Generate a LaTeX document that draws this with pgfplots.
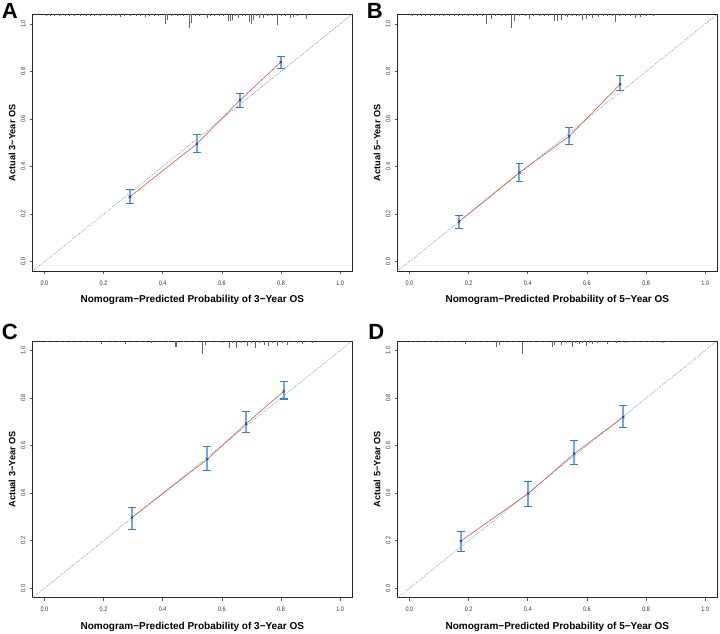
\documentclass[border=0pt]{standalone}
\usepackage{fontspec}
\setmainfont{Liberation Sans}
\usepackage{graphicx}
\usepackage{pgfplots}
\usepackage{pgfplotstable}
\pgfplotsset{compat=1.18}

\definecolor{errblue}{RGB}{55,125,195}
\definecolor{errlight}{RGB}{115,170,222}
\definecolor{ptblue}{RGB}{40,50,175}
\definecolor{redline}{RGB}{208,100,84}
\definecolor{diagblue}{RGB}{105,155,205}
\definecolor{rugc}{RGB}{100,100,100}

% calibration points: x y ep em
\pgfplotstableread{
x y ep em
0.289 0.273 0.031 0.030
0.515 0.495 0.038 0.036
0.662 0.680 0.028 0.032
0.799 0.839 0.024 0.028
}\calA
\pgfplotstableread{
x y ep em
0.168 0.169 0.027 0.030
0.372 0.375 0.039 0.036
0.540 0.527 0.036 0.034
0.712 0.746 0.036 0.028
}\calB
\pgfplotstableread{
x y ep em
0.296 0.298 0.040 0.049
0.551 0.543 0.053 0.048
0.682 0.692 0.051 0.037
0.809 0.828 0.041 0.032
}\calC
\pgfplotstableread{
x y ep em
0.174 0.199 0.040 0.045
0.402 0.399 0.052 0.054
0.557 0.566 0.055 0.046
0.723 0.720 0.047 0.044
}\calD

% rug (distribution of predictions): x, length in px
\pgfplotstableread{
x l
0.005 1.5
0.020 1.5
0.035 1.2
0.050 1.5
0.070 1.5
0.085 1.2
0.100 1.5
0.120 1.5
0.140 1.2
0.155 1.5
0.170 1.5
0.190 1.5
0.210 1.2
0.225 1.5
0.240 1.5
0.256 2.7
0.270 1.5
0.290 1.5
0.310 1.5
0.325 1.2
0.340 3
0.355 1.5
0.370 1.5
0.385 1.5
0.408 9.3
0.414 6
0.430 1.5
0.450 1.5
0.470 1.5
0.490 13.7
0.496 9
0.510 1.5
0.525 1.5
0.549 4
0.560 1.5
0.575 2
0.590 1.5
0.605 2
0.620 7
0.628 7
0.636 6
0.645 2
0.656 4
0.670 2
0.680 2
0.693 8
0.699 10
0.707 6
0.715 2
0.727 4
0.741 4
0.755 2
0.770 1.5
0.788 11
0.800 2
0.815 1.5
0.831 4
0.842 3
0.855 1.5
0.885 5
}\rugA
\pgfplotstableread{
x l
0.010 1.5
0.025 1.5
0.040 1.2
0.055 1.5
0.070 1.5
0.085 1.2
0.100 1.5
0.115 1.5
0.135 2
0.150 1.5
0.165 1.2
0.180 1.5
0.200 1.5
0.215 1.2
0.230 1.5
0.245 1.5
0.258 9.7
0.275 5
0.290 1.5
0.310 1.5
0.325 1.5
0.344 13.3
0.355 7
0.370 1.5
0.390 1.5
0.406 5
0.420 1.5
0.440 1.5
0.455 1.5
0.470 2
0.490 7
0.498 7
0.513 6
0.525 2
0.535 3
0.550 2
0.565 2
0.575 2
0.585 6
0.596 5
0.607 2
0.619 4
0.639 3
0.655 2
0.670 1.5
0.685 2
0.697 8
0.710 2
0.730 1.5
0.745 2
0.762 4
0.781 3
0.800 1.5
0.823 2
}\rugB
\pgfplotstableread{
x l
0.010 1.5
0.030 1.2
0.050 1.5
0.070 1.2
0.090 1.5
0.110 1.5
0.130 1.2
0.150 1.5
0.170 1.5
0.191 3
0.210 1.5
0.230 1.2
0.250 1.5
0.275 3
0.300 1.5
0.320 1.5
0.340 1.2
0.360 2
0.380 1.5
0.400 1.5
0.420 1.5
0.442 6
0.447 6
0.470 1.5
0.490 1.5
0.510 1.5
0.534 13.3
0.545 4
0.560 1.5
0.580 1.5
0.600 2
0.624 7
0.635 2
0.649 7
0.665 2
0.685 5
0.700 2
0.713 7
0.728 2
0.742 4
0.758 5
0.772 2
0.787 5
0.805 2
0.820 4
0.840 1.5
0.855 2
0.871 3
0.890 1.5
0.904 2
}\rugC
\pgfplotstableread{
x l
0.005 1.5
0.020 1.2
0.040 1.5
0.060 1.2
0.080 1.5
0.100 1.5
0.120 1.2
0.140 1.5
0.160 1.5
0.190 3
0.210 1.5
0.230 1.2
0.250 1.5
0.270 1.5
0.294 6
0.303 4
0.320 1.5
0.340 1.5
0.360 1.5
0.383 13.3
0.400 1.5
0.420 1.5
0.440 1.5
0.460 1.5
0.484 6
0.490 4
0.500 1.5
0.512 4
0.530 2
0.552 6
0.560 2
0.574 3
0.585 2
0.596 5
0.607 2
0.619 3
0.635 2
0.650 1.5
0.669 3
0.685 1.5
0.700 2
0.715 1.5
0.731 2
0.750 1.5
0.770 1.5
0.790 1.5
0.810 1.5
0.830 1.5
0.854 2
0.875 1.5
}\rugD

\pgfplotsset{
  calib/.style={
    scale only axis, width=239.6pt, height=192.6pt,
    xmin=-0.04, xmax=1.04, ymin=-0.04, ymax=1.04,
    xtick={0,0.2,0.4,0.6,0.8,1}, ytick={0,0.2,0.4,0.6,0.8,1},
    tick align=outside, xtick pos=bottom, ytick pos=left,
    major tick length=2.2pt,
    tick style={black!65, line width=0.4pt},
    axis line style={black!85, line width=0.6pt},
    /pgf/number format/assume math mode=true,
    xticklabel={\scalebox{0.84}[1]{\pgfmathprintnumber[fixed,fixed zerofill,precision=1,assume math mode=true]{\tick}}},
    yticklabel={\scalebox{0.84}[1]{\pgfmathprintnumber[fixed,fixed zerofill,precision=1,assume math mode=true]{\tick}}},
    ticklabel style={font=\fontsize{4.9}{5.5}\selectfont, inner sep=0pt, text=black!80},
    xticklabel shift=4.6pt,
    yticklabel shift=3pt,
    yticklabel style={rotate=90, anchor=south},
    xlabel style={at={(axis description cs:0.5,0)}, anchor=north, inner sep=0pt, yshift=-18.2pt, font=\fontsize{7.5}{8}\selectfont\bfseries},
    ylabel style={at={(axis description cs:0,0.5)}, anchor=center, inner sep=0pt, yshift=15.4pt, font=\fontsize{6.9}{7.5}\selectfont\bfseries},
    clip=true,
  },
  diag/.style={diagblue, line width=0.5pt, dash pattern=on 0.7pt off 0.9pt},
  rugline/.style={draw=rugc, line width=0.35pt, quiver={u=0, v={-\thisrow{l}/237.7}}},
  redl/.style={draw=redline, line width=0.5pt, no marks},
  errp/.style={draw=errlight, only marks, mark=x, mark size=1.2pt,
    mark options={draw=ptblue, line width=0.5pt, solid},
    error bars/.cd, y dir=both, y explicit,
    error bar style={draw=errlight, line width=1.5pt, solid},
    error mark options={draw=errblue, rotate=90, mark size=2.9pt, line width=0.8pt, solid}},
}

\begin{document}
\begin{tikzpicture}
\useasboundingbox (0,0) rectangle (540pt,475.5pt);

% Panel A
\begin{axis}[calib, at={(24.4pt,272.1pt)}, anchor=south west,
  xlabel={Nomogram\textminus Predicted Probability of 3\textminus Year OS},
  ylabel={Actual 3\textminus Year OS}]
\addplot[diag] coordinates {(-0.04,-0.04) (1.04,1.04)};
\addplot[rugline] table[x=x, y expr=1.04] {\rugA};
\addplot[redl] table[x=x,y=y] {\calA};
\addplot[errp] table[x=x, y=y, y error plus=ep, y error minus=em] {\calA};
\end{axis}

% Panel B
\begin{axis}[calib, at={(298.2pt,272.1pt)}, anchor=south west,
  xlabel={Nomogram\textminus Predicted Probability of 5\textminus Year OS},
  ylabel={Actual 5\textminus Year OS}]
\addplot[diag] coordinates {(-0.04,-0.04) (1.04,1.04)};
\addplot[rugline] table[x=x, y expr=1.04] {\rugB};
\addplot[redl] table[x=x,y=y] {\calB};
\addplot[errp] table[x=x, y=y, y error plus=ep, y error minus=em] {\calB};
\end{axis}

% Panel C
\begin{axis}[calib, at={(24.4pt,27.15pt)}, anchor=south west,
  xlabel={Nomogram\textminus Predicted Probability of 3\textminus Year OS},
  ylabel={Actual 3\textminus Year OS}]
\addplot[diag] coordinates {(-0.04,-0.04) (1.04,1.04)};
\addplot[rugline] table[x=x, y expr=1.04] {\rugC};
\addplot[redl] table[x=x,y=y] {\calC};
\addplot[errp] table[x=x, y=y, y error plus=ep, y error minus=em] {\calC};
\end{axis}

% Panel D
\begin{axis}[calib, at={(298.2pt,27.15pt)}, anchor=south west,
  xlabel={Nomogram\textminus Predicted Probability of 5\textminus Year OS},
  ylabel={Actual 5\textminus Year OS}]
\addplot[diag] coordinates {(-0.04,-0.04) (1.04,1.04)};
\addplot[rugline] table[x=x, y expr=1.04] {\rugD};
\addplot[redl] table[x=x,y=y] {\calD};
\addplot[errp] table[x=x, y=y, y error plus=ep, y error minus=em] {\calD};
\end{axis}

\node[anchor=north west, inner sep=0pt, font=\fontsize{16.5}{17}\selectfont\bfseries] at (1.3pt,473.4pt) {A};
\node[anchor=north west, inner sep=0pt, font=\fontsize{16.5}{17}\selectfont\bfseries] at (275pt,473.4pt) {B};
\node[anchor=north west, inner sep=0pt, font=\fontsize{16.5}{17}\selectfont\bfseries] at (1.3pt,232.6pt) {C};
\node[anchor=north west, inner sep=0pt, font=\fontsize{16.5}{17}\selectfont\bfseries] at (276pt,232.6pt) {D};
\end{tikzpicture}
\end{document}
